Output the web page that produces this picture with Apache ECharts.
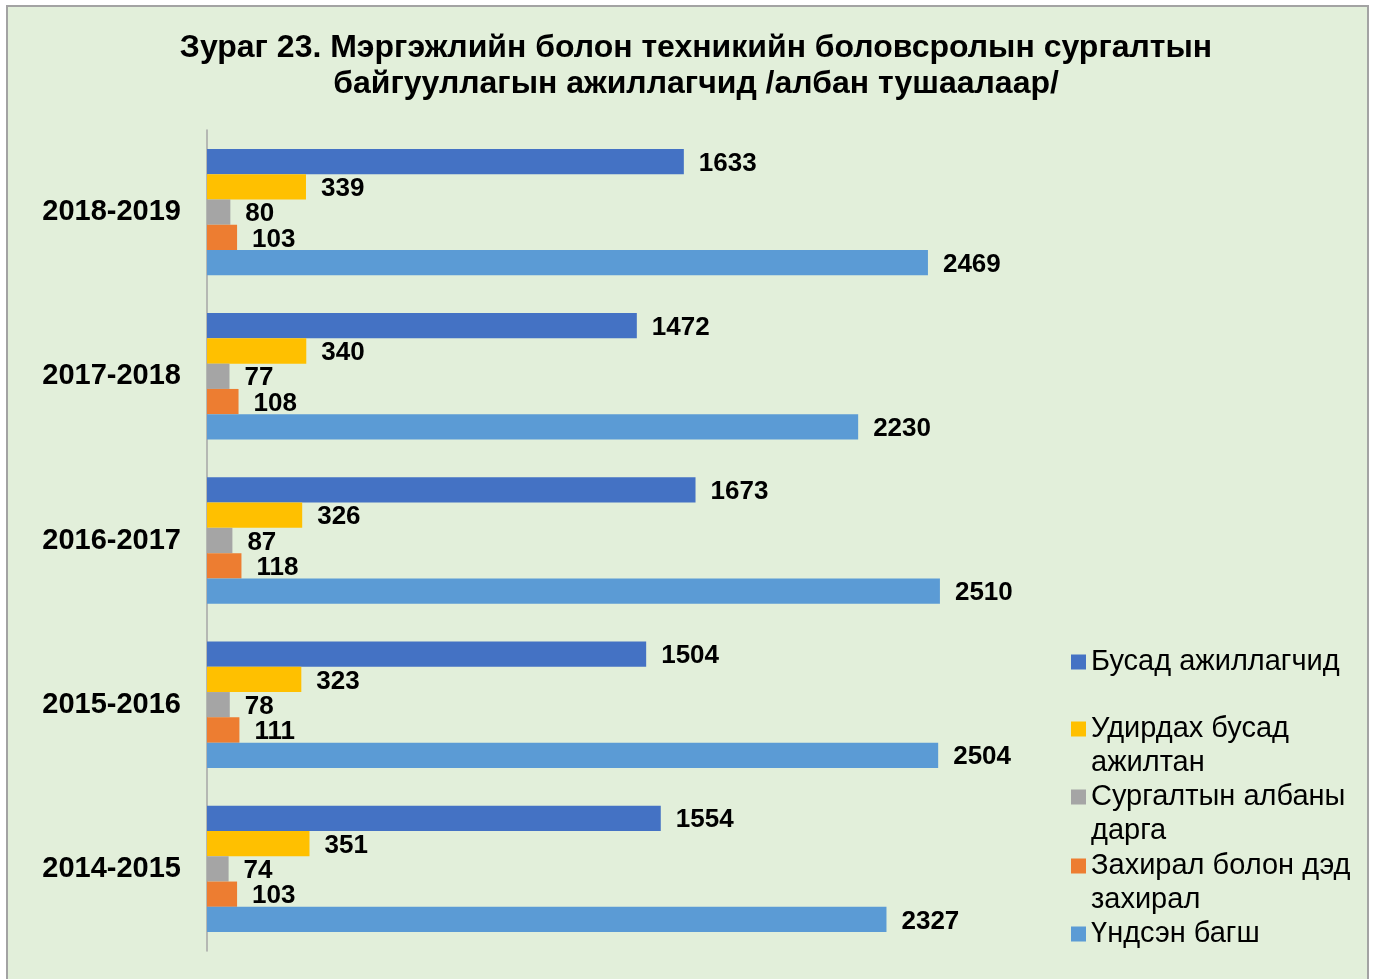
<!DOCTYPE html>
<html lang="mn">
  <head>
    <meta charset="UTF-8" />
    <title>Зураг 23</title>
    <script src="https://cdn.jsdelivr.net/npm/echarts@6/dist/echarts.min.js"></script>
    <style>
      body { margin: 0; background: #fff; }
      #frame {
        position: absolute; left: 6px; top: 5px; width: 1359px; height: 1000px;
        border: 2px solid #a3a3a3; background: #e2efda;
      }
      #chart { position: absolute; left: 0; top: 0; width: 1374px; height: 979px; }
    </style>
  </head>
  <body>
    <div id="frame"></div>
    <div id="chart"></div>

    <script>
      // өгөгдөл
      const years = ["2014-2015", "2015-2016", "2016-2017", "2017-2018", "2018-2019"];
      const busad = [1554, 1504, 1673, 1472, 1633];
      const udirdah = [351, 323, 326, 340, 339];
      const surgalt = [74, 78, 87, 77, 80];
      const zahiral = [103, 111, 118, 108, 103];
      const undsen = [2327, 2504, 2510, 2230, 2469];

      const names = [
        "Бусад ажиллагчид",
        "Удирдах бусад ажилтан",
        "Сургалтын албаны дарга",
        "Захирал болон дэд захирал",
        "Үндсэн багш",
      ];
      // legend дээр хэрхэн тасалж харуулах (эхний хоосон мөр нь тэмдгийг 1-р мөртэй тэгшлэнэ)
      const legendText = {
        "Бусад ажиллагчид": "Бусад ажиллагчид",
        "Удирдах бусад ажилтан": " \nУдирдах бусад\nажилтан",
        "Сургалтын албаны дарга": " \nСургалтын албаны\nдарга",
        "Захирал болон дэд захирал": " \nЗахирал болон дэд\nзахирал",
        "Үндсэн багш": "Үндсэн багш",
      };
      const legendTop = [645, 678, 746, 815, 917];
      const colors = ["#4472c4", "#ffc000", "#a5a5a5", "#ed7d31", "#5b9bd5"];
      const values = [busad, udirdah, surgalt, zahiral, undsen];

      const font = "'Liberation Sans', Arial, sans-serif";

      const chart = echarts.init(document.getElementById("chart"));

      chart.setOption({
        backgroundColor: "transparent",
        textStyle: { fontFamily: font },
        title: {
          text: "Зураг 23. Мэргэжлийн болон техникийн боловсролын сургалтын\nбайгууллагын ажиллагчид /албан тушаалаар/",
          left: 691,
          textAlign: "center",
          top: 25,
          textStyle: {
            fontFamily: font,
            fontSize: 32,
            fontWeight: "bold",
            lineHeight: 36,
            color: "#000",
          },
        },
        legend: names.map((n, i) => ({
          data: [n],
          orient: "vertical",
          left: 1071,
          top: legendTop[i],
          padding: 0,
          icon: "rect",
          itemWidth: 15,
          itemHeight: 15,
          itemGap: 0,
          formatter: (name) => legendText[name],
          textStyle: { fontFamily: font, fontSize: 29, lineHeight: 34, color: "#000" },
        })),
        grid: { left: 207, right: 291, top: 130, bottom: 28 },
        xAxis: { type: "value", min: 0, max: 3000, show: false },
        yAxis: {
          type: "category",
          data: years,
          axisLine: { lineStyle: { color: "#a6a6a6", width: 1.5 } },
          axisTick: { show: false },
          axisLabel: {
            margin: 26,
            fontFamily: font,
            fontSize: 29,
            fontWeight: "bold",
            color: "#000",
          },
        },
        series: names.map((n, i) => ({
          name: n,
          type: "bar",
          data: values[i],
          itemStyle: { color: colors[i] },
          barGap: "0%",
          barCategoryGap: "23%",
          label: {
            show: true,
            position: "right",
            distance: 15,
            offset: [0, 2],
            fontFamily: font,
            fontSize: 26,
            fontWeight: "bold",
            color: "#000",
          },
        })),
      });
    </script>
  </body>
</html>
